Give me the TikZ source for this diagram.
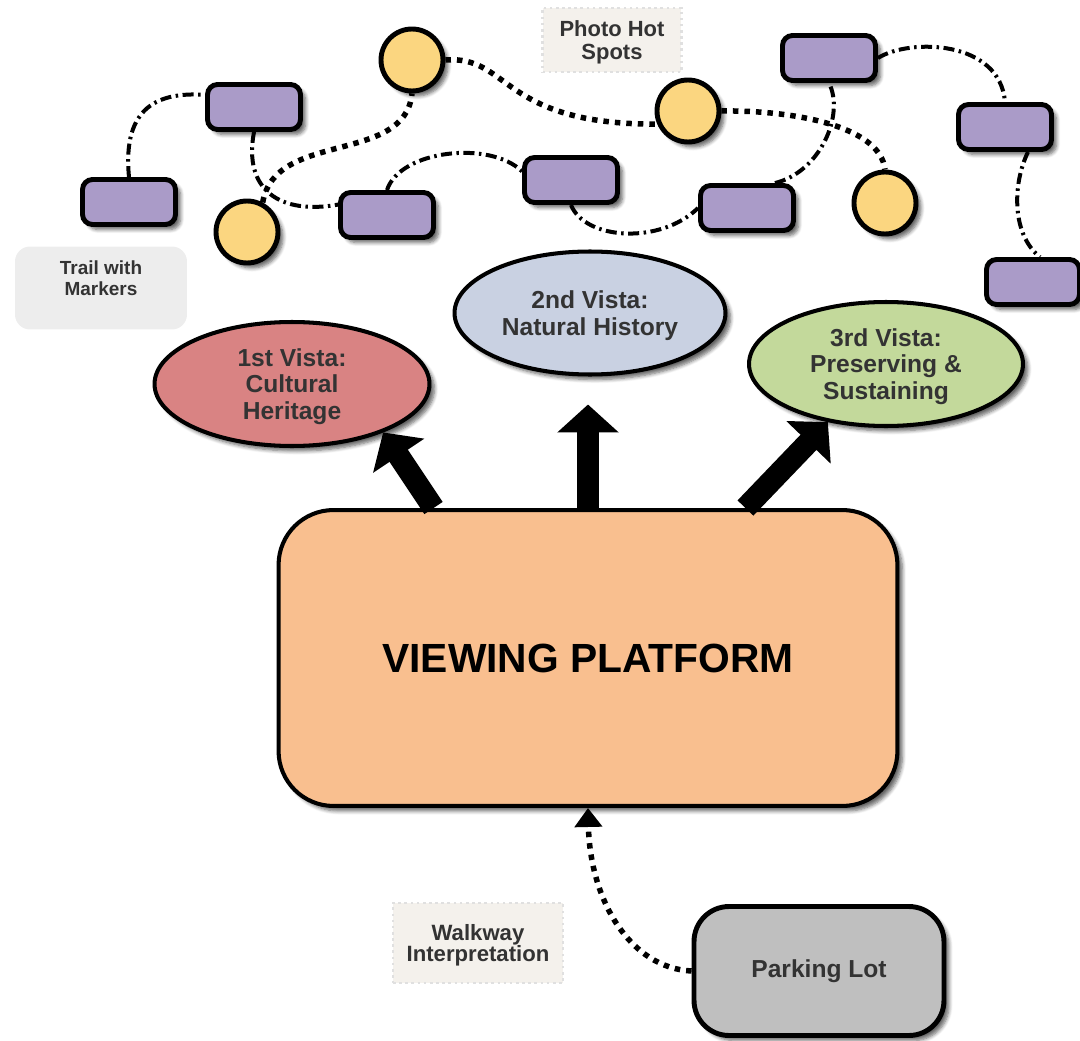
\documentclass[tikz,border=0pt]{standalone}
\usepackage{fontspec}
\setmainfont{Liberation Sans}
\usetikzlibrary{arrows.meta,shapes.geometric,shadows.blur}

\definecolor{markerfill}{HTML}{AA9BC8}
\definecolor{spotfill}{HTML}{FBD680}
\definecolor{vistaA}{HTML}{D98383}
\definecolor{vistaB}{HTML}{C9D1E2}
\definecolor{vistaC}{HTML}{C3D99B}
\definecolor{platfill}{HTML}{F9BF8F}
\definecolor{lotfill}{HTML}{BFBFBF}
\definecolor{notefill}{HTML}{F4F1EC}
\definecolor{textgray}{HTML}{333333}

\tikzset{
  softshadow/.style={blur shadow={shadow xshift=0.1cm,shadow yshift=-0.1cm,shadow blur steps=6,shadow opacity=60}},
  marker/.style={draw,line width=2.8pt,rounded corners=0.2cm,fill=markerfill,
    minimum width=1.86cm,minimum height=0.9cm,softshadow},
  spot/.style={circle,draw,line width=2.8pt,fill=spotfill,minimum size=1.24cm,inner sep=0pt,softshadow},
  vista/.style={ellipse,draw,line width=2.3pt,inner sep=0pt,align=center,text=textgray,
    text depth=0cm,font=\bfseries\fontsize{14}{15.3}\selectfont,softshadow},
  note/.style={fill=notefill,draw=black!12,dotted,line width=1.5pt,align=center,text=textgray,
    font=\bfseries\fontsize{12.5}{13.6}\selectfont},
  trail/.style={line width=0.08cm,dash pattern=on 0.22cm off 0.09cm on 0.05cm off 0.09cm},
  photo/.style={line width=0.11cm,dash pattern=on 0.11cm off 0.12cm},
  walk/.style={line width=0.11cm,dash pattern=on 0.11cm off 0.12cm,-{Triangle[length=0.38cm,width=0.54cm]}},
  bigarrow/.style={line width=0.44cm,-{Triangle[length=0.56cm,width=1.2cm]}}
}

\begin{document}
\begin{tikzpicture}[x=0.02cm,y=-0.02cm]
  \useasboundingbox (0,0) rectangle (1080,1041);
  % notes
  \node[note,minimum width=2.78cm,minimum height=1.28cm,text depth=0cm] (hot) at (612,40) {Photo Hot\\Spots};
  \node[note,draw=none,fill=black!7,rounded corners=0.3cm,minimum width=3.44cm,minimum height=1.66cm,
    text depth=0.4cm,font=\bfseries\fontsize{10.8}{11.9}\selectfont] (trailnote) at (101,288) {Trail with\\Markers};
  \node[note,minimum width=3.4cm,minimum height=1.6cm,text depth=0cm,
    font=\bfseries\fontsize{12.6}{12}\selectfont] (walknote) at (478,943) {Walkway\\Interpretation};
  % trail markers
  \node[marker] (m1) at (129,202) {};
  \node[marker] (m2) at (254,107) {};
  \node[marker] (m3) at (387,215) {};
  \node[marker] (m4) at (571,180) {};
  \node[marker] (m5) at (747,208) {};
  \node[marker] (m6) at (829,58) {};
  \node[marker] (m7) at (1005,127) {};
  \node[marker] (m8) at (1033,282) {};
  % photo hot spots
  \node[spot] (s1) at (412,60) {};
  \node[spot] (s2) at (247,232) {};
  \node[spot] (s3) at (688,111) {};
  \node[spot] (s4) at (885,203) {};
  % trail
  \draw[trail] (m1.north) .. controls (122,105) and (160,92) .. (m2.166);
  \draw[trail] (m2.south) .. controls (243,190) and (280,215) .. (m3.168);
  \draw[trail] (m3.north) .. controls (400,150) and (490,140) .. (m4.170);
  \draw[trail] (m4.south) .. controls (585,240) and (660,245) .. (m5.west);
  \draw[trail] ([xshift=0.56cm]m5.north) .. controls (820,172) and (845,115) .. (m6.south);
  \draw[trail] (m6.east) .. controls (910,38) and (1000,40) .. (m7.north);
  \draw[trail] ([xshift=0.46cm]m7.south) .. controls (1012,185) and (1012,235) .. ([xshift=0.14cm]m8.north);
  % photo path
  \draw[photo] (s2.62) .. controls (275,130) and (405,165) .. (s1.south);
  \draw[photo] (s1.east) .. controls (510,55) and (500,125) .. (s3.203);
  \draw[photo] (s3.east) .. controls (790,110) and (880,125) .. (s4.north);
  % vistas
  \node[vista,fill=vistaA,minimum width=5.5cm,minimum height=2.48cm] (v1) at (292,384) {1st Vista:\\Cultural\\Heritage};
  \node[vista,fill=vistaB,minimum width=5.42cm,minimum height=2.46cm] (v2) at (590,313) {2nd Vista:\\Natural History};
  \node[vista,fill=vistaC,minimum width=5.48cm,minimum height=2.48cm] (v3) at (886,364) {3rd Vista:\\Preserving \&\\Sustaining};
  % platform and parking
  \node[draw,line width=2.3pt,rounded corners=1.1cm,fill=platfill,minimum width=12.38cm,minimum height=5.92cm,
    font=\bfseries\fontsize{23.2}{26}\selectfont,softshadow] (vp) at (588,658) {VIEWING PLATFORM};
  \node[draw,line width=2.8pt,rounded corners=0.7cm,fill=lotfill,minimum width=5cm,minimum height=2.58cm,
    text=textgray,font=\bfseries\fontsize{14}{16}\selectfont,softshadow] (lot) at (819,971) {Parking Lot};
  \draw[bigarrow] ([xshift=-3.09cm]vp.north) -- (v1.-28);
  \draw[bigarrow,shorten >=0.56cm] (vp.north) -- (vp.north |- v2.south);
  \draw[bigarrow] ([xshift=3.15cm]vp.north) -- (v3.-135);
  \draw[walk] (lot.west) .. controls (630,968) and (590,900) .. (vp.south);
\end{tikzpicture}
\end{document}
